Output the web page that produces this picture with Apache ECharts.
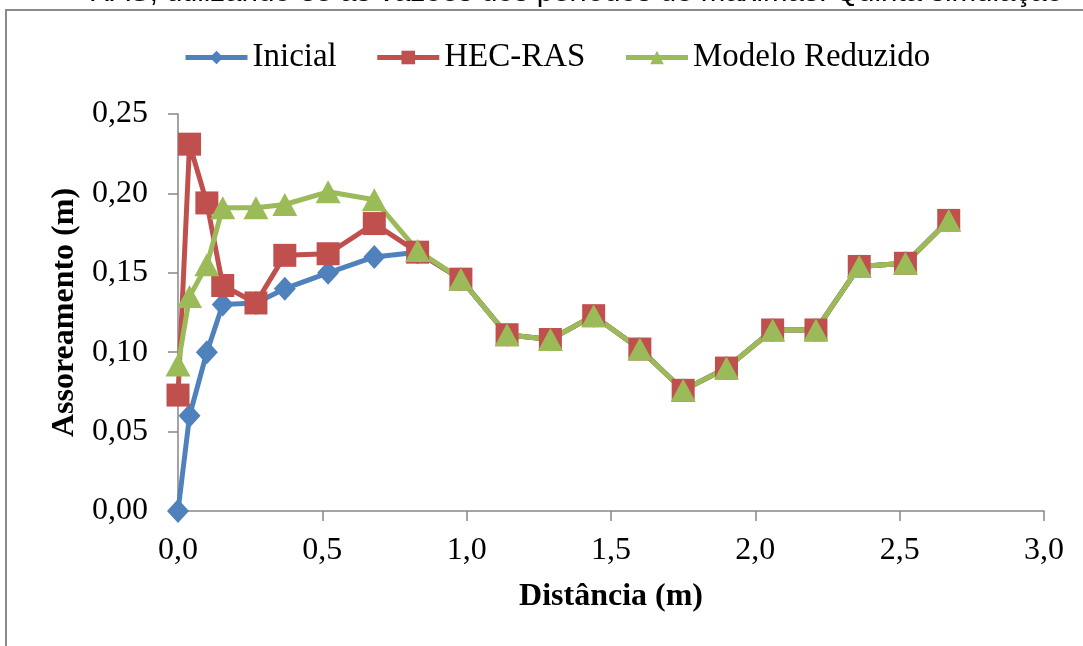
<!DOCTYPE html>
<html>
<head>
<meta charset="utf-8">
<script src="https://cdn.jsdelivr.net/npm/echarts@6/dist/echarts.min.js"></script>
<style>
html,body{margin:0;padding:0;background:#fff;}
#chart{width:1083px;height:646px;}
</style>
</head>
<body>
<div id="chart"></div>
<script>
// Data
const distancia = [0, 0.04, 0.10, 0.155, 0.27, 0.37, 0.52, 0.68, 0.83, 0.98, 1.14, 1.29, 1.44, 1.60, 1.75, 1.90, 2.06, 2.21, 2.36, 2.52, 2.67];
const inicial = [0, 0.060, 0.100, 0.130, 0.131, 0.140, 0.150, 0.160, 0.163, 0.146, 0.111, 0.108, 0.123, 0.102, 0.076, 0.090, 0.114, 0.114, 0.154, 0.156, 0.183];
const hecRas = [0.073, 0.231, 0.194, 0.142, 0.131, 0.161, 0.162, 0.181, 0.163, 0.146, 0.111, 0.108, 0.123, 0.102, 0.076, 0.090, 0.114, 0.114, 0.154, 0.156, 0.183];
const modeloReduzido = [0.092, 0.135, 0.155, 0.191, 0.191, 0.193, 0.201, 0.196, 0.164, 0.146, 0.111, 0.108, 0.123, 0.102, 0.076, 0.090, 0.114, 0.114, 0.154, 0.156, 0.183];
const seriesNames = ['Inicial', 'HEC-RAS', 'Modelo Reduzido'];
const xTitle = 'Distância (m)';
const yTitle = 'Assoreamento (m)';
const topText = 'RAS, utilizando-se as vazões dos períodos de máximas. Quinta simulação';

const pair = (ys) => distancia.map((x, i) => [x, ys[i]]);
const serif = '"Liberation Serif", "Times New Roman", serif';

const chart = echarts.init(document.getElementById('chart'), null, {renderer: 'canvas'});
const lineSeries = (name, ys, color, symbol, size) => ({
  name: name,
  type: 'line',
  data: pair(ys),
  symbol: symbol,
  symbolSize: size,
  showAllSymbol: true,
  lineStyle: {color: color, width: 5},
  itemStyle: {color: color},
  emphasis: {disabled: true},
  animation: false,
  z: 2
});

chart.setOption({
  backgroundColor: '#ffffff',
  animation: false,
  graphic: [
    {type: 'text', x: 576, y: -7, style: {text: topText, font: '29.5px "Liberation Sans", Arial, sans-serif', fill: '#000', align: 'center', verticalAlign: 'middle'}, silent: true},
    {type: 'rect', shape: {x: 6, y: 10, width: 1100, height: 700}, style: {fill: 'none', stroke: '#8a8a8a', lineWidth: 2}, silent: true}
  ],
  legend: {
    left: 178,
    top: 36,
    itemWidth: 62,
    itemHeight: 17,
    itemGap: 38,
    lineStyle: {width: 5},
    textStyle: {fontFamily: serif, fontSize: 33, color: '#000'},
    data: seriesNames
  },
  grid: {left: 178, right: 39, top: 114, bottom: 135, containLabel: false},
  xAxis: {
    type: 'value',
    min: 0, max: 3, interval: 0.5,
    name: xTitle,
    nameLocation: 'middle',
    nameGap: 70,
    nameTextStyle: {fontFamily: serif, fontSize: 32, fontWeight: 'bold', color: '#000'},
    axisLine: {show: true, onZero: false, lineStyle: {color: '#868686', width: 1.5}},
    axisTick: {show: true, inside: false, length: 10, lineStyle: {color: '#868686', width: 1.5}},
    axisLabel: {fontFamily: serif, fontSize: 32, color: '#000', margin: 24, formatter: v => v.toFixed(1).replace('.', ',')},
    splitLine: {show: false}
  },
  yAxis: {
    type: 'value',
    min: 0, max: 0.25, interval: 0.05,
    name: yTitle,
    nameLocation: 'middle',
    nameGap: 90,
    nameRotate: 90,
    nameTextStyle: {fontFamily: serif, fontSize: 32, fontWeight: 'bold', color: '#000'},
    axisLine: {show: true, lineStyle: {color: '#868686', width: 1.5}},
    axisTick: {show: true, inside: false, length: 10, lineStyle: {color: '#868686', width: 1.5}},
    axisLabel: {fontFamily: serif, fontSize: 32, color: '#000', margin: 30, formatter: v => v.toFixed(2).replace('.', ',')},
    splitLine: {show: false}
  },
  series: [
    lineSeries(seriesNames[0], inicial, '#4F81BD', 'diamond', [22, 24]),
    lineSeries(seriesNames[1], hecRas, '#C0504D', 'rect', [23, 23]),
    lineSeries(seriesNames[2], modeloReduzido, '#9BBB59', 'triangle', [25, 23])
  ]
});
</script>
</body>
</html>
